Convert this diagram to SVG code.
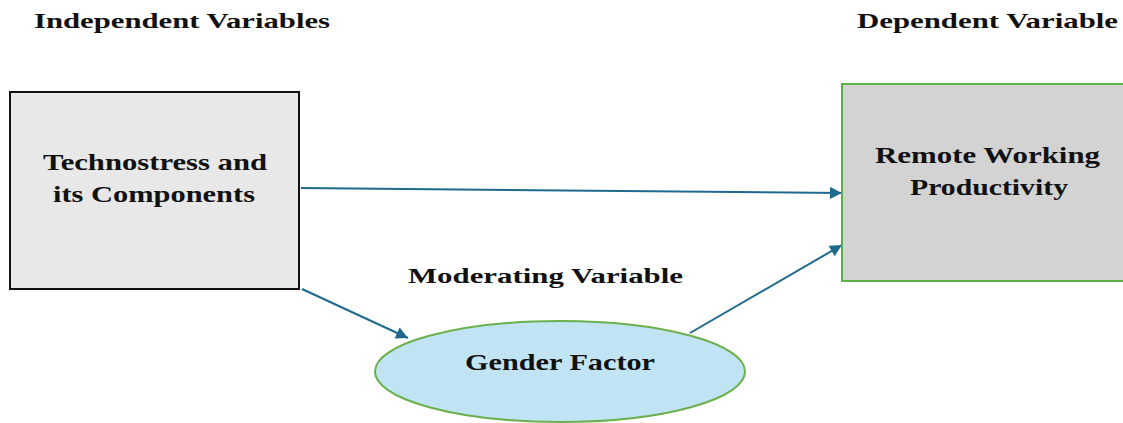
<svg xmlns="http://www.w3.org/2000/svg" width="1123" height="423" viewBox="0 0 1123 423">
  <style>
    text { font-family: "Liberation Serif", "Times New Roman", serif; font-weight: bold; fill: #111; }
    .hdr { font-size: 21px; }
    .lbl { font-size: 23px; }
    .conn { stroke: #20698e; stroke-width: 2; fill: none; marker-end: url(#arrow); }
  </style>
  <defs>
    <marker id="arrow" viewBox="0 0 10 10" refX="10" refY="5" markerWidth="15" markerHeight="12" markerUnits="userSpaceOnUse" orient="auto">
      <path d="M0,0 L10,5 L0,10 z" fill="#20698e"/>
    </marker>
  </defs>
  <rect width="1123" height="423" fill="#ffffff"/>

  <!-- section headings -->
  <text class="hdr" x="34" y="28" textLength="296" lengthAdjust="spacingAndGlyphs">Independent Variables</text>
  <text class="hdr" x="857" y="28" textLength="261" lengthAdjust="spacingAndGlyphs">Dependent Variable</text>
  <text class="hdr" x="408" y="283" textLength="275" lengthAdjust="spacingAndGlyphs">Moderating Variable</text>

  <!-- connectors -->
  <g id="connectors">
    <path class="conn" d="M301,188 L842,193"/>
    <path class="conn" d="M302,289 L408,338"/>
    <path class="conn" d="M690,333 L842,245"/>
  </g>

  <g id="technostress">
    <rect x="10" y="92" width="289" height="197" fill="#e8e8e8" stroke="#111" stroke-width="2"/>
    <text class="lbl" x="43" y="170" textLength="224" lengthAdjust="spacingAndGlyphs">Technostress and</text>
    <text class="lbl" x="53" y="202" textLength="202" lengthAdjust="spacingAndGlyphs">its Components</text>
  </g>

  <g id="productivity">
    <rect x="842" y="84" width="290" height="197" fill="#d3d3d3" stroke="#5cb146" stroke-width="2"/>
    <text class="lbl" x="875" y="163" textLength="225" lengthAdjust="spacingAndGlyphs">Remote Working</text>
    <text class="lbl" x="910" y="195" textLength="158" lengthAdjust="spacingAndGlyphs">Productivity</text>
  </g>

  <g id="gender">
    <ellipse cx="560" cy="371.5" rx="185" ry="50.5" fill="#c1e4f5" stroke="#6ab04c" stroke-width="2"/>
    <text class="lbl" x="465" y="370" textLength="190" lengthAdjust="spacingAndGlyphs">Gender Factor</text>
  </g>
</svg>
